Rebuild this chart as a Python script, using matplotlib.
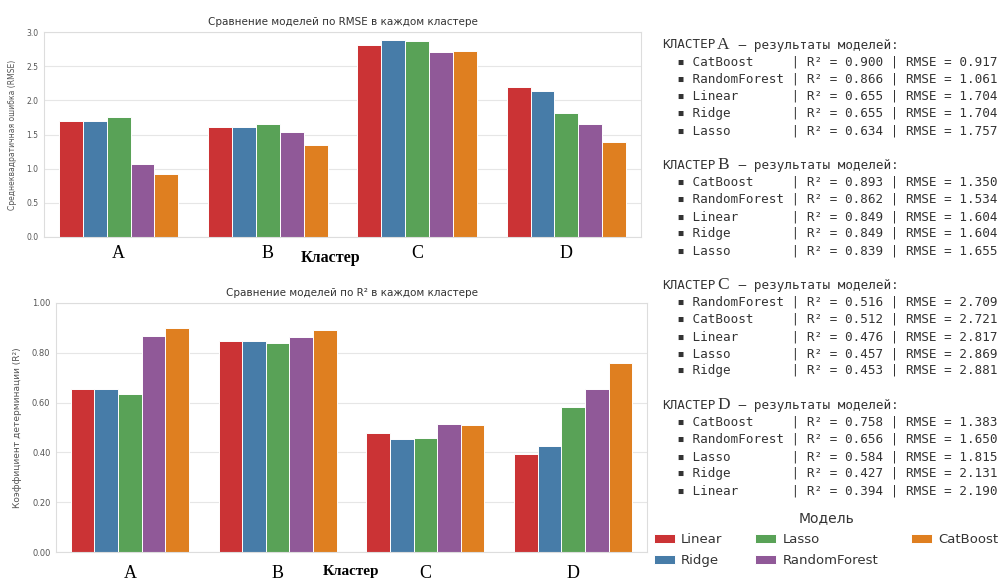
import colorsys
import numpy as np
import matplotlib
matplotlib.use("Agg")
from matplotlib import pyplot as plt
from matplotlib.colors import to_rgb

clusters = ["A", "B", "C", "D"]
models = ["Linear", "Ridge", "Lasso", "RandomForest", "CatBoost"]
base_colors = ["#e41a1c", "#377eb8", "#4daf4a", "#984ea3", "#ff7f00"]

# rows = models, columns = clusters A..D
rmse = [
    [1.704, 1.604, 2.817, 2.190],  # Linear
    [1.704, 1.604, 2.881, 2.131],  # Ridge
    [1.757, 1.655, 2.869, 1.815],  # Lasso
    [1.061, 1.534, 2.709, 1.650],  # RandomForest
    [0.917, 1.350, 2.721, 1.383],  # CatBoost
]
r2 = [
    [0.655, 0.849, 0.476, 0.394],
    [0.655, 0.849, 0.453, 0.427],
    [0.634, 0.839, 0.457, 0.584],
    [0.866, 0.862, 0.516, 0.656],
    [0.900, 0.893, 0.512, 0.758],
]


def desat(c, prop=0.75):
    h, l, s = colorsys.rgb_to_hls(*to_rgb(c))
    return colorsys.hls_to_rgb(h, l, s * prop)


colors = [desat(c) for c in base_colors]

W, H = 1002, 581
fig = plt.figure(figsize=(W / 100, H / 100), dpi=100)


def box(x0, y0, x1, y1):
    return [x0 / W, 1 - y1 / H, (x1 - x0) / W, (y1 - y0) / H]


def bars(ax, values, ylim, yfmt, ytick_size):
    n = len(models)
    width = 0.8 / n
    x = np.arange(len(clusters))
    for i, m in enumerate(models):
        ax.bar(x - 0.4 + width * (i + 0.5), values[i], width, color=colors[i],
               edgecolor="white", linewidth=0.7, label=m, zorder=2)
    ax.set_xlim(-0.5, len(clusters) - 0.5)
    ax.set_ylim(*ylim)
    ax.set_xticks(x)
    ax.set_xticklabels(clusters, family="Liberation Serif", fontsize=13)
    ax.yaxis.set_major_formatter(plt.FormatStrFormatter(yfmt))
    ax.tick_params(axis="y", labelsize=ytick_size, colors="#555555", length=0, pad=4)
    ax.tick_params(axis="x", length=0)
    ax.grid(axis="y", color="#e6e6e6", linewidth=0.8, zorder=0)
    for s in ax.spines.values():
        s.set_color("#dddddd")
        s.set_linewidth(0.8)


ax1 = fig.add_axes(box(44, 32, 641, 237))
bars(ax1, rmse, (0, 3.0), "%.1f", 5.5)
ax1.set_yticks(np.arange(0, 3.01, 0.5))
ax1.tick_params(axis="x", pad=6)
ax1.set_title("Сравнение моделей по RMSE в каждом кластере", fontsize=7.5,
              color="#333333", pad=5)
ax1.set_ylabel("Среднеквадратичная ошибка (RMSE)", fontsize=5.5, color="#555555")
ax1.yaxis.set_label_coords(-0.045, 0.5)
ax1.set_xlabel("Кластер", family="Liberation Serif", fontweight="bold", fontsize=11.5)
ax1.xaxis.set_label_coords(0.48, -0.062)

ax2 = fig.add_axes(box(56, 303, 647, 552))
bars(ax2, r2, (0, 1.0), "%.2f", 6)
ax2.set_yticks(np.arange(0, 1.01, 0.2))
ax2.tick_params(axis="x", pad=9)
ax2.set_title("Сравнение моделей по R² в каждом кластере", fontsize=7.5,
              color="#333333", pad=5)
ax2.set_ylabel("Коэффициент детерминации (R²)", fontsize=6.5, color="#555555")
ax2.yaxis.set_label_coords(-0.057, 0.5)
ax2.set_xlabel("Кластер", family="Liberation Serif", fontweight="bold", fontsize=11)
ax2.xaxis.set_label_coords(0.5, -0.054)

# text panel with ranked results
mono = ["DejaVu Sans Mono", "DejaVu Sans"]
tcol = "#333333"
fs = 9.1
line_h = 17.15
y = 45
for ci, c in enumerate(clusters):
    fig.text(662 / W, 1 - y / H, "КЛАСТЕР", family=mono, fontsize=fs, color=tcol, va="center")
    fig.text(717 / W, 1 - y / H, c, family="Liberation Serif", fontsize=12.5,
             color=tcol, va="center")
    fig.text(731 / W, 1 - y / H, " — результаты моделей:", family=mono, fontsize=fs,
             color=tcol, va="center")
    ranked = sorted(range(len(models)), key=lambda i: -r2[i][ci])
    for i in ranked:
        y += line_h
        line = f"  ▪ {models[i]:<12} | R² = {r2[i][ci]:.3f} | RMSE = {rmse[i][ci]:.3f}"
        fig.text(662 / W, 1 - y / H, line, family=mono, fontsize=fs, color=tcol, va="center")
    y += 2 * line_h

handles, labels = ax1.get_legend_handles_labels()
leg = fig.legend(handles, labels, title="Модель", ncol=3, frameon=False,
                 loc="center", bbox_to_anchor=(826 / W, 1 - 539 / H),
                 fontsize=9.5, title_fontsize=10, columnspacing=2.5,
                 handlelength=1.6, handletextpad=0.45, labelspacing=0.6,
                 borderpad=0.2)
for t in leg.get_texts():
    t.set_color("#333333")
leg.get_title().set_color("#333333")

fig.savefig("out.png", dpi=100, facecolor="white")
